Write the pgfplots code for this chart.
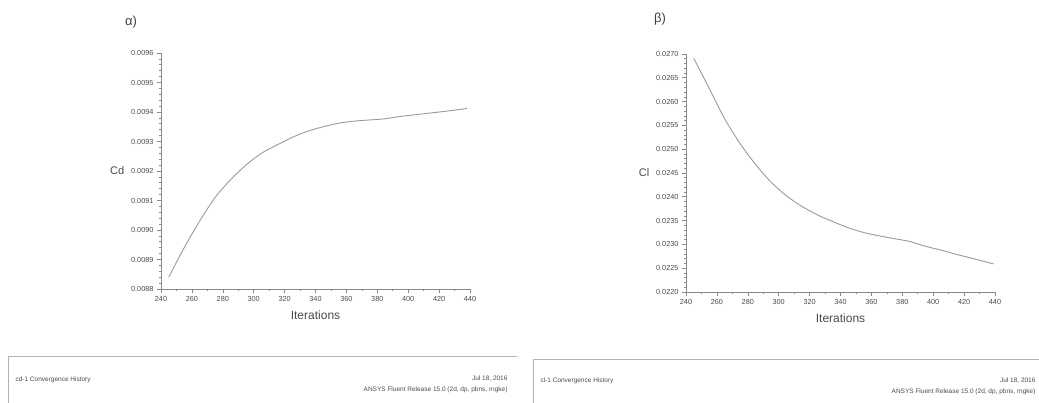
\documentclass[border=0pt]{standalone}
\usepackage{pgfplots}
\pgfplotsset{compat=1.18}
\usepackage{fontspec}
\setmainfont{Liberation Sans}

\definecolor{axgray}{HTML}{8A8A8A}
\definecolor{curvegray}{HTML}{9A9A9A}
\definecolor{txtgray}{HTML}{4A4A4A}

\pgfplotsset{
  fluent/.style={
    scale only axis,
    width=309pt,
    axis x line=bottom, axis y line=left,
    axis line style={-, axgray, line width=0.8pt},
    xmin=240, xmax=440,
    xtick={240,260,...,440},
    minor x tick num=1,
    minor y tick num=4,
    tick align=outside,
    major tick length=4pt, minor tick length=2pt,
    tick style={axgray, line width=0.6pt},
    ticklabel style={font=\fontsize{7.3}{8}\selectfont, text=txtgray},
    /pgf/number format/assume math mode=true,
    y tick label style={/pgf/number format/.cd, fixed, fixed zerofill, precision=4},
    scaled y ticks=false,
    xlabel={Iterations},
    xlabel style={font=\fontsize{12}{14}\selectfont, text=txtgray, yshift=-2pt},
    ylabel style={rotate=-90, font=\fontsize{11}{13}\selectfont, text=txtgray},
    clip=false,
  }
}

\begin{document}
\begin{tikzpicture}[x=1pt,y=1pt]
\useasboundingbox (0,0) rectangle (1039,403);

% alpha) Cd
\begin{axis}[fluent, at={(161pt,114pt)}, anchor=south west,
  height=236pt, ymin=0.0088, ymax=0.0096,
  ytick={0.0088,0.0089,...,0.00965},
  ylabel={Cd}]
\addplot[curvegray, line width=0.9pt, smooth] coordinates {
(245,0.00884) (255,0.00894) (265,0.00903) (275,0.00911) (285,0.00917)
(295,0.00922) (305,0.00926) (315,0.009288) (325,0.009314) (335,0.009335)
(345,0.009350) (355,0.009362) (365,0.009369) (375,0.009373) (385,0.009377)
(395,0.009385) (405,0.009391) (415,0.009397) (425,0.009403) (438,0.009412)
};
\end{axis}

% beta) Cl
\begin{axis}[fluent, at={(686pt,111pt)}, anchor=south west,
  height=238pt, ymin=0.0220, ymax=0.0270,
  ytick={0.0220,0.0225,...,0.02705},
  ylabel={Cl}]
\addplot[curvegray, line width=0.9pt, smooth] coordinates {
(245,0.02691) (255,0.02628) (265,0.02564) (275,0.02512) (285,0.02468)
(295,0.02431) (305,0.02402) (315,0.02380) (325,0.02362) (335,0.02348)
(345,0.02335) (355,0.02325) (365,0.02318) (375,0.02312) (385,0.02306)
(395,0.02296) (405,0.02288) (415,0.02279) (425,0.02271) (439,0.02259)
};
\end{axis}

% panel letters
\node[font=\fontsize{13}{15}\selectfont, text=black!75] at (131,381) {α)};
\node[font=\fontsize{13}{15}\selectfont, text=black!75] at (660,384) {β)};

% footer boxes
\draw[black!30, line width=1pt] (8,0) -- (8,46) -- (517,46);
\draw[black!30, line width=1pt] (533,0) -- (533,43) -- (1039,43);
\node[anchor=west, font=\fontsize{6.5}{8}\selectfont, text=black!70] at (12,23) {cd-1 Convergence History};
\node[anchor=east, font=\fontsize{6.5}{8}\selectfont, text=black!70] at (511,24) {Jul 18, 2016};
\node[anchor=east, font=\fontsize{6.5}{8}\selectfont, text=black!70] at (511,13) {ANSYS Fluent Release 15.0 (2d, dp, pbns, rngke)};
\node[anchor=west, font=\fontsize{6.5}{8}\selectfont, text=black!70] at (537,22) {cl-1 Convergence History};
\node[anchor=east, font=\fontsize{6.5}{8}\selectfont, text=black!70] at (1039,22) {Jul 18, 2016};
\node[anchor=east, font=\fontsize{6.5}{8}\selectfont, text=black!70] at (1039,11) {ANSYS Fluent Release 15.0 (2d, dp, pbns, rngke)};
\end{tikzpicture}
\end{document}
